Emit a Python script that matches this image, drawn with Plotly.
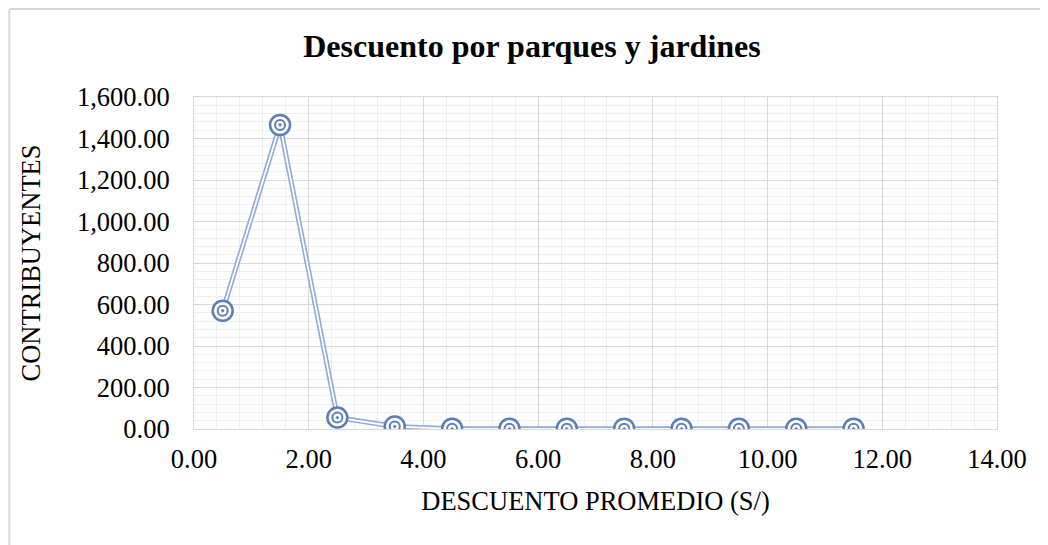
import plotly.graph_objects as go

descuento = [0.5, 1.5, 2.5, 3.5, 4.5, 5.5, 6.5, 7.5, 8.5, 9.5, 10.5, 11.5]
contribuyentes = [570, 1465, 55, 12, 1, 1, 1, 1, 1, 1, 1, 1]

LINE_BLUE = "#8FAADC"
MARK_BLUE = "#5B7DB9"
MAJOR = "#D9D9D9"
MINOR = "#EFEFEF"
FONT = "Liberation Serif"

fig = go.Figure()
# double line: wide blue stroke with a thin white core
fig.add_trace(go.Scatter(x=descuento, y=contribuyentes, mode="lines",
                         line=dict(color=LINE_BLUE, width=5), hoverinfo="skip"))
fig.add_trace(go.Scatter(x=descuento, y=contribuyentes, mode="lines",
                         line=dict(color="white", width=1.8), hoverinfo="skip"))
# target-style markers
fig.add_trace(go.Scatter(x=descuento, y=contribuyentes, mode="markers",
                         marker=dict(symbol="circle", size=20, color="white",
                                     line=dict(color=MARK_BLUE, width=2.5))))
fig.add_trace(go.Scatter(x=descuento, y=contribuyentes, mode="markers",
                         marker=dict(symbol="circle-dot", size=10, color="white",
                                     line=dict(color=MARK_BLUE, width=2))))

fig.update_layout(
    width=1048, height=545,
    showlegend=False,
    paper_bgcolor="white", plot_bgcolor="white",
    margin=dict(l=186, r=59, t=89, b=124),
    font=dict(family=FONT, color="black", size=26.5),
    title=dict(text="<b>Descuento por parques y jardines</b>", x=0.5, xanchor="center",
               y=0.93, yanchor="middle", font=dict(family=FONT, size=32, color="black")),
    xaxis=dict(range=[0, 14], dtick=2, tickformat=",.2f", showgrid=True, gridcolor=MAJOR,
               gridwidth=1.3, minor=dict(dtick=0.4, showgrid=True, gridcolor=MINOR, gridwidth=1.3),
               zeroline=False, showline=True, linecolor=MAJOR, mirror=True,
               ticks="", ticklabelstandoff=6,
               title=dict(text="DESCUENTO PROMEDIO (S/)", standoff=18,
                          font=dict(family=FONT, size=26.5))),
    yaxis=dict(range=[0, 1600], dtick=200, tickformat=",.2f", showgrid=True, gridcolor=MAJOR,
               gridwidth=1.3, minor=dict(dtick=40, showgrid=True, gridcolor=MINOR, gridwidth=1.3),
               zeroline=False, showline=True, linecolor=MAJOR, mirror=True,
               ticks="", ticklabelstandoff=18,
               title=dict(text="CONTRIBUYENTES", standoff=28,
                          font=dict(family=FONT, size=26.5))),
    shapes=[
        dict(type="line", xref="paper", yref="paper", x0=-0.23, x1=-0.23, y0=-0.5, y1=1.265,
             line=dict(color="#D9D9D9", width=2)),
        dict(type="line", xref="paper", yref="paper", x0=-0.23, x1=1.1, y0=1.265, y1=1.265,
             line=dict(color="#D9D9D9", width=2)),
    ],
)

fig.write_html("out.html")
